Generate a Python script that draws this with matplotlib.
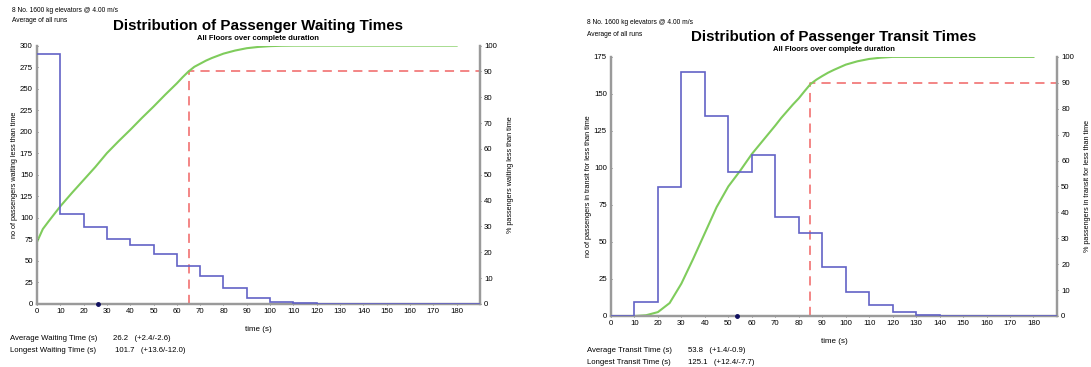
import matplotlib.pyplot as plt

plt.rcParams["font.family"] = ["Liberation Sans", "DejaVu Sans"]

# histogram bins (s)
bin_edges = list(range(0, 200, 10))

# waiting times
wait_counts = [290, 105, 89, 75, 69, 58, 44, 32, 18, 7, 2.3, 0.8, 0, 0, 0, 0, 0, 0, 0]
wait_cum_t = [0, 2.5, 5, 10, 15, 20, 25, 30, 35, 40, 45, 50, 55, 60, 62.5, 65, 67.5,
              70, 72.5, 75, 80, 85, 90, 95, 100, 105, 110, 180]
wait_cum_pct = [24, 29, 32, 37.8, 43, 48, 53, 58.4, 63, 67.4, 72, 76.4, 81, 85.4, 87.8, 90, 91.8,
                93, 94.2, 95.2, 96.9, 98.1, 99, 99.5, 99.8, 99.95, 100, 100]
wait_avg = 26.2
wait_p90 = 65

# transit times
transit_counts = [0, 9.5, 87, 164.5, 135, 97, 109, 67, 56, 33, 16, 7.4, 2.5, 0.7, 0, 0, 0, 0, 0]
transit_cum_t = [10.5, 15, 20, 25, 30, 35, 40, 45, 50, 55, 60, 65, 70, 72.5, 75, 77.5, 80,
                 82.5, 85, 87.5, 90, 92.5, 95, 100, 105, 110, 115, 120, 180]
transit_cum_pct = [0, 0.3, 1.5, 5, 12.5, 22, 32, 42, 50, 56, 62.5, 68, 73.5, 76.4, 79, 81.6, 84,
                   86.8, 89.5, 91.2, 92.6, 93.9, 95, 97, 98.3, 99.2, 99.7, 100, 100]
transit_avg = 53.8
transit_p90 = 85

header = "8 No. 1600 kg elevators @ 4.00 m/s"
header2 = "Average of all runs"

BLUE = "#6262c6"
GREEN = "#7fcc5c"
RED = "#f06464"
GREY = "#9a9a9a"


def panel(fig, rect, counts, cum_t, cum_pct, avg, p90, ymax, ystep,
          title, ylab_l, ylab_r):
    ax = fig.add_axes(rect)
    ax.stairs(counts, bin_edges, baseline=None, color=BLUE, lw=1.2, zorder=3)
    ax.plot([avg], [0], "o", color="#101060", ms=2.5, zorder=5, clip_on=False)
    ax.set_xlim(0, 190)
    ax.set_ylim(0, ymax)
    ax.set_xticks(range(0, 190, 10))
    ax.set_yticks(range(0, ymax + 1, ystep))
    ax.set_xlabel("time (s)", fontsize=5.8, labelpad=8)
    ax.set_ylabel(ylab_l, fontsize=5.2, labelpad=1)

    ax2 = ax.twinx()
    ax2.plot(cum_t, cum_pct, color=GREEN, lw=1.5, zorder=2)
    ax2.plot([p90, p90, 190], [0, 90, 90], color=RED, lw=1.1,
             dashes=(6, 4), zorder=1)
    ax2.set_ylim(0, 100)
    ax2.set_yticks(range(0, 101, 10))
    ax2.set_ylabel(ylab_r, fontsize=5.2, rotation=90, labelpad=7)

    for a in (ax, ax2):
        a.spines["top"].set_visible(False)
        for s in ("left", "right", "bottom"):
            a.spines[s].set_color(GREY)
            a.spines[s].set_linewidth(1.6)
        a.tick_params(labelsize=5.6, length=2, width=0.6, color="#555555",
                      pad=2, direction="inout")
    ax.set_zorder(ax2.get_zorder() + 1)
    ax.patch.set_visible(False)

    x0, y0, w, h = rect
    xc = x0 + w / 2
    top = y0 + h
    fig.text(xc, top + 0.054, title, ha="center", va="center",
             fontsize=10.9, fontweight="bold")
    fig.text(xc, top + 0.019, "All Floors over complete duration",
             ha="center", va="center", fontsize=5.5, fontweight="bold")
    return ax


fig = plt.figure(figsize=(10.91, 3.67), dpi=100)

panel(fig, [0.0339, 0.1717, 0.406, 0.704], wait_counts, wait_cum_t, wait_cum_pct,
      wait_avg, wait_p90, 300, 25, "Distribution of Passenger Waiting Times",
      "no of passengers waiting less than time", "% passengers waiting less than time")
panel(fig, [0.560, 0.139, 0.4088, 0.706], transit_counts, transit_cum_t, transit_cum_pct,
      transit_avg, transit_p90, 175, 25, "Distribution of Passenger Transit Times",
      "no of passengers in transit for less than time",
      "% passengers in transit for less than time")

# header texts
fig.text(0.011, 1 - 10 / 367, header, fontsize=4.8, va="center")
fig.text(0.011, 1 - 21 / 367, header2, fontsize=4.8, va="center")
fig.text(0.538, 1 - 23 / 367, header, fontsize=4.8, va="center")
fig.text(0.538, 1 - 34 / 367, header2, fontsize=4.8, va="center")

# summary stats
fig.text(10 / 1091, 1 - 338 / 367, "Average Waiting Time (s)", fontsize=5.6, va="center")
fig.text(10 / 1091, 1 - 350 / 367, "Longest Waiting Time (s)", fontsize=5.6, va="center")
fig.text(113 / 1091, 1 - 338 / 367, "26.2   (+2.4/-2.6)", fontsize=5.6, va="center")
fig.text(115 / 1091, 1 - 350 / 367, "101.7   (+13.6/-12.0)", fontsize=5.6, va="center")

fig.text(587 / 1091, 1 - 350 / 367, "Average Transit Time (s)", fontsize=5.6, va="center")
fig.text(587 / 1091, 1 - 362 / 367, "Longest Transit Time (s)", fontsize=5.6, va="center")
fig.text(688 / 1091, 1 - 350 / 367, "53.8   (+1.4/-0.9)", fontsize=5.6, va="center")
fig.text(688 / 1091, 1 - 362 / 367, "125.1   (+12.4/-7.7)", fontsize=5.6, va="center")

fig.savefig("out.png", dpi=100)
